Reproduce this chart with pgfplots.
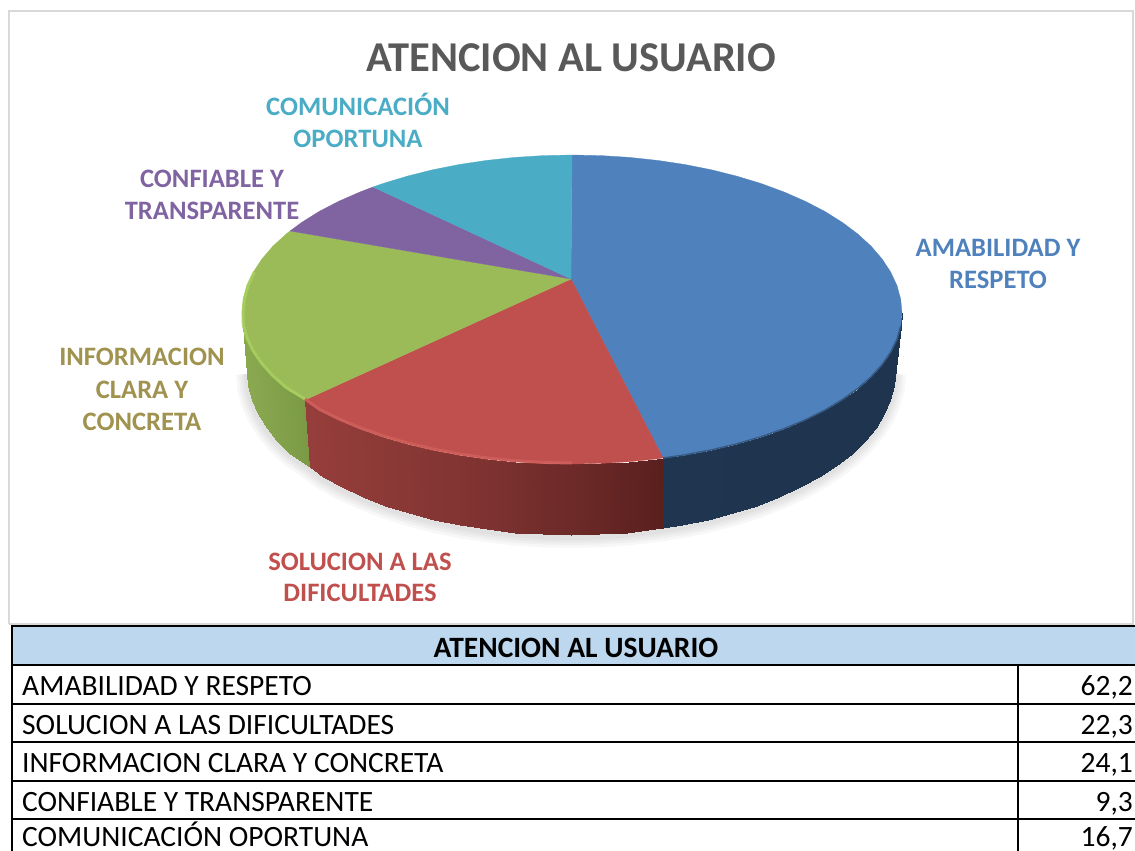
\documentclass[border=0pt]{standalone}
\usepackage{pgfplots}
\pgfplotsset{compat=1.18}
\usepackage{pgfplotstable}
\usepackage{fontspec}
\setmainfont{Carlito}

\definecolor{cblue}{HTML}{4F81BD}
\definecolor{cred}{HTML}{C0504D}
\definecolor{cgreen}{HTML}{9BBB59}
\definecolor{cpurple}{HTML}{8064A2}
\definecolor{ccyan}{HTML}{4BACC6}
\definecolor{colive}{HTML}{A0924F}
\definecolor{hdr}{HTML}{BDD7EE}
\definecolor{rimgreen}{HTML}{A9CF5F}
\definecolor{rimred}{HTML}{D0605C}

\pgfplotsset{
  colormap={blueside}{rgb255=(31,53,80) rgb255=(31,52,78)},
  colormap={redside}{rgb255=(150,62,59) rgb255=(126,51,49) rgb255=(90,32,30)},
  colormap={greenside}{rgb255=(139,170,80) rgb255=(124,154,70)},
}

% front edge of the lower rim, pixel coordinates
\pgfplotstableread{
x y
247 372
248.2 386.2
251.9 400.3
258 414.2
266.5 427.7
277.4 440.9
290.4 453.5
310 467
322.8 476.8
341.9 487.3
362.7 496.9
385.2 505.5
409 513.2
434.1 519.7
460.2 525.2
487.1 529.4
514.7 532.5
542.8 534.4
571 535
599.2 534.4
627.3 532.5
654.9 529.4
681.8 525.2
707.9 519.7
733 513.2
756.8 505.5
779.3 496.9
800.1 487.3
819.2 476.8
836.4 465.5
851.6 453.5
864.6 440.9
875.5 427.7
884 414.2
890.1 400.3
893.8 386.2
895 372
}\loweredge

\pgfplotstableread{
x y m
305 400 0
319.2 410.1 0.04
338.7 419.8 0.09
359.9 428.7 0.15
382.7 436.7 0.22
407 443.8 0.28
432.5 449.9 0.36
459.1 454.9 0.43
486.6 458.9 0.51
514.7 461.7 0.59
543.2 463.4 0.67
572 464 0.74
600.8 463.4 0.82
629.3 461.7 0.91
657.4 458.9 0.98
663 458 1
310 467 0
322.8 476.8 0.04
341.9 487.3 0.09
362.7 496.9 0.15
385.2 505.5 0.22
409 513.2 0.28
434.1 519.7 0.36
460.2 525.2 0.43
487.1 529.4 0.51
514.7 532.5 0.59
542.8 534.4 0.67
571 535 0.74
599.2 534.4 0.82
627.3 532.5 0.91
654.9 529.4 0.98
663 528.3 1
}\redside

\pgfplotstableread{
x y m
243 318 0
243.3 326.2 0.05
247 339.2 0.1
253.3 352.1 0.2
261.9 364.6 0.35
272.9 376.8 0.5
286.2 388.5 0.7
305 400 1
247 372 0
248.2 386.2 0.05
251.9 400.3 0.1
258 414.2 0.2
266.5 427.7 0.35
277.4 440.9 0.5
290.4 453.5 0.7
310 467 1
}\greenside

\pgfplotstableread{
x y m
663 458 0
684.9 454.9 0.1
711.5 449.9 0.2
737 443.8 0.3
761.3 436.7 0.4
784.1 428.7 0.5
805.3 419.8 0.55
824.8 410.1 0.6
842.3 399.6 0.65
857.8 388.5 0.7
871.1 376.8 0.75
882.1 364.6 0.8
890.7 352.1 0.85
897 339.2 0.9
900.7 326.2 0.95
902 313 1
663 528.3 0
681.8 525.2 0.1
707.9 519.7 0.2
733 513.2 0.3
756.8 505.5 0.4
779.3 496.9 0.5
800.1 487.3 0.55
819.2 476.8 0.6
836.4 465.5 0.65
851.6 453.5 0.7
864.6 440.9 0.75
875.5 427.7 0.8
884 414.2 0.85
890.1 400.3 0.9
893.8 386.2 0.95
895 372 1
}\blueside

\newcommand{\lab}[4]{\node[anchor=base,inner sep=0pt,text=#1,font=\fontsize{#2}{#2}\selectfont\bfseries] at (axis cs:#3) {#4};}
\newcommand{\cell}[3]{\node[anchor=base #1,inner sep=0pt,text=black,font=\fontsize{29.5}{29.5}\selectfont] at (axis cs:#2) {#3};}

\begin{document}
\begin{tikzpicture}
\path[use as bounding box,clip] (0,0) rectangle (1135pt,851pt);
\begin{axis}[
    at={(0,0)}, anchor=south west,
    scale only axis,
    width=1135pt, height=851pt,
    xmin=0, xmax=1135, ymin=0, ymax=851,
    y dir=reverse,
    hide axis,
    point meta min=0, point meta max=1,
]
% chart frame
\addplot[draw=black!15, line width=1.5pt] coordinates {(9,624) (9,11) (1133,11) (1133,624) (9,624)};

% soft shadow under the pie
\addplot[draw=black, opacity=0.03, line width=22pt, yshift=-2pt] table[x=x,y=y] {\loweredge};
\addplot[draw=black, opacity=0.03, line width=16pt, yshift=-2pt] table[x=x,y=y] {\loweredge};
\addplot[draw=black, opacity=0.03, line width=11pt, yshift=-2pt] table[x=x,y=y] {\loweredge};
\addplot[draw=black, opacity=0.03, line width=6pt, yshift=-2pt] table[x=x,y=y] {\loweredge};

% sides
\addplot[surf, shader=interp, mesh/rows=2, colormap name=greenside, point meta=explicit] table[x=x,y=y,meta=m] {\greenside};
\addplot[surf, shader=interp, mesh/rows=2, colormap name=redside, point meta=explicit] table[x=x,y=y,meta=m] {\redside};
\addplot[surf, shader=interp, mesh/rows=2, colormap name=blueside, point meta=explicit] table[x=x,y=y,meta=m] {\blueside};

% top face
\addplot[fill=cblue, draw=cblue, line width=0.3pt] coordinates {
 (571,279) (572,155) (600.8,155.6) (629.3,157.4) (657.4,160.4) (684.9,164.5) (711.5,169.8) (737,176.2)
 (761.3,183.6) (784.1,192) (805.3,201.3) (824.8,211.4) (842.3,222.4) (857.8,234) (871.1,246.2) (882.1,259)
 (890.7,272.1) (897,285.6) (900.7,299.2) (902,313) (900.7,326.2) (897,339.2) (890.7,352.1) (882.1,364.6)
 (871.1,376.8) (857.8,388.5) (842.3,399.6) (824.8,410.1) (805.3,419.8) (784.1,428.7) (761.3,436.7) (737,443.8)
 (711.5,449.9) (684.9,454.9) (663,458) (571,279)};
\addplot[fill=cred, draw=cred, line width=0.3pt] coordinates {
 (571,279) (663,458) (657.4,458.9) (629.3,461.7) (600.8,463.4) (572,464) (543.2,463.4) (514.7,461.7)
 (486.6,458.9) (459.1,454.9) (432.5,449.9) (407,443.8) (382.7,436.7) (359.9,428.7) (338.7,419.8) (319.2,410.1)
 (305,400) (571,279)};
\addplot[fill=cgreen, draw=cgreen, line width=0.3pt] coordinates {
 (571,279) (305,400) (286.2,388.5) (272.9,376.8) (261.9,364.6) (253.3,352.1) (247,339.2) (243.3,326.2) (242,313)
 (243.3,299.2) (247,285.6) (253.3,272.1) (261.9,259) (272.9,246.2) (286.2,234) (290,231) (571,279)};
\addplot[fill=cpurple, draw=cpurple, line width=0.3pt] coordinates {
 (571,279) (290,231) (301.7,222.4) (319.2,211.4) (338.7,201.3) (359.9,192) (373,187) (571,279)};
\addplot[fill=ccyan, draw=ccyan, line width=0.3pt] coordinates {
 (571,279) (373,187) (382.7,183.6) (407,176.2) (432.5,169.8) (459.1,164.5) (486.6,160.4) (514.7,157.4) (543.2,155.6) (572,155) (571,279)};

% bevel on the rim
\addplot[draw=rimgreen, line width=3pt, opacity=0.85] coordinates {
 (305,399) (286.2,387.5) (272.9,375.8) (261.9,363.6) (253.3,351.1) (247,338.2) (243.3,325.2) (243,313) (244.3,299.2) (248,285.6) (254.3,272.1)};
\addplot[draw=rimred, line width=3pt, opacity=0.85] coordinates {
 (305,399) (319.2,409.1) (338.7,418.8) (359.9,427.7) (382.7,435.7) (407,442.8) (432.5,448.9) (459.1,453.9) (486.6,457.9) (514.7,460.7) (543.2,462.4) (572,463)};
\addplot[draw=cblue!70!black, line width=1.5pt] coordinates {
 (663,458) (684.9,454.9) (711.5,449.9) (737,443.8) (761.3,436.7) (784.1,428.7) (805.3,419.8) (824.8,410.1) (842.3,399.6) (857.8,388.5) (871.1,376.8) (882.1,364.6) (890.7,352.1) (897,339.2) (900.7,326.2)};

% table
\addplot[fill=hdr, draw=none] coordinates {(12,627) (1135,627) (1135,665) (12,665) (12,627)};
\addplot[draw=black, line width=1.5pt] coordinates {(12,851) (12,626) (1135,626)};
\addplot[draw=black, line width=1.5pt] coordinates {(12,665) (1135,665)};
\addplot[draw=black, line width=1.5pt] coordinates {(12,704) (1135,704)};
\addplot[draw=black, line width=1.5pt] coordinates {(12,742) (1135,742)};
\addplot[draw=black, line width=1.5pt] coordinates {(12,781) (1135,781)};
\addplot[draw=black, line width=1.5pt] coordinates {(12,819) (1135,819)};
\addplot[draw=black, line width=1.5pt] coordinates {(1018,665) (1018,851)};

% labels
\lab{black!65}{42.5}{571,72}{ATENCION AL USUARIO}
\lab{ccyan}{26.6}{358,115}{COMUNICACIÓN}
\lab{ccyan}{26.6}{358,147}{OPORTUNA}
\lab{cpurple}{26.6}{212,187}{CONFIABLE Y}
\lab{cpurple}{26.6}{212,219}{TRANSPARENTE}
\lab{cblue}{26.6}{998,256}{AMABILIDAD Y}
\lab{cblue}{26.6}{998,288}{RESPETO}
\lab{colive}{26.6}{142,365}{INFORMACION}
\lab{colive}{26.6}{142,398}{CLARA Y}
\lab{colive}{26.6}{142,430}{CONCRETA}
\lab{cred}{26.6}{360,570}{SOLUCION A LAS}
\lab{cred}{26.6}{360,601}{DIFICULTADES}

\node[anchor=base,inner sep=0pt,font=\fontsize{29.5}{29.5}\selectfont\bfseries] at (axis cs:576,657) {ATENCION AL USUARIO};
\cell{west}{22,695}{AMABILIDAD Y RESPETO}
\cell{west}{22,734}{SOLUCION A LAS DIFICULTADES}
\cell{west}{22,772}{INFORMACION CLARA Y CONCRETA}
\cell{west}{22,811}{CONFIABLE Y TRANSPARENTE}
\cell{west}{22,846}{COMUNICACIÓN OPORTUNA}
\cell{east}{1133,695}{62,2}
\cell{east}{1133,734}{22,3}
\cell{east}{1133,772}{24,1}
\cell{east}{1133,811}{9,3}
\cell{east}{1133,846}{16,7}
\end{axis}
\end{tikzpicture}
\end{document}
